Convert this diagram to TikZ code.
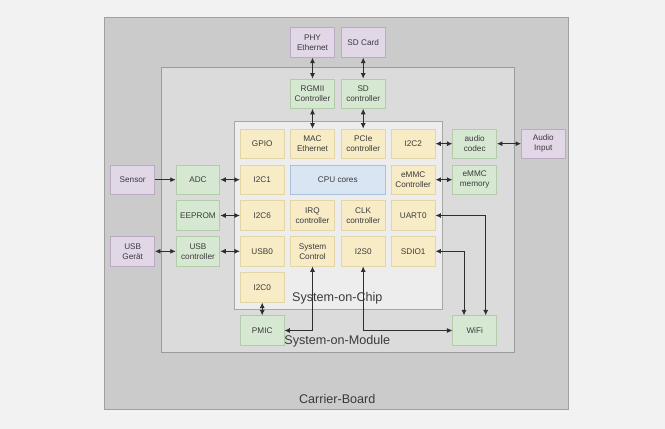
\documentclass[tikz,border=0pt]{standalone}
\usepackage{fontspec}
\setmainfont{Liberation Sans}
\usetikzlibrary{arrows.meta}
\definecolor{pagebg}{HTML}{F2F2F2}
\definecolor{boardfill}{HTML}{CBCBCB}
\definecolor{boardline}{HTML}{A0A0A0}
\definecolor{somfill}{HTML}{DBDBDB}
\definecolor{somline}{HTML}{9C9C9C}
\definecolor{socfill}{HTML}{EDEDED}
\definecolor{socline}{HTML}{A6A6A6}
\definecolor{yelfill}{HTML}{F7ECC6}
\definecolor{yelline}{HTML}{E2D6A6}
\definecolor{grnfill}{HTML}{D6E8D2}
\definecolor{grnline}{HTML}{B2CCAA}
\definecolor{purfill}{HTML}{E2D7E7}
\definecolor{purline}{HTML}{BBAAC4}
\definecolor{blufill}{HTML}{D9E5F3}
\definecolor{bluline}{HTML}{A9C0DA}
\definecolor{txt}{HTML}{3A3A3A}
\definecolor{wire}{HTML}{2E2E2E}
\tikzset{
  x=1pt, y=-1pt,
  blk/.style={draw, line width=0.8pt, minimum width=43.7pt, minimum height=29.3pt,
    inner sep=0pt, align=center, text=txt, font=\fontsize{8.2}{10.2}\selectfont},
  socblk/.style={blk, fill=yelfill, draw=yelline},
  modblk/.style={blk, fill=grnfill, draw=grnline},
  extblk/.style={blk, fill=purfill, draw=purline},
  coreblk/.style={blk, fill=blufill, draw=bluline, minimum width=94.3pt},
  tip/.tip={Latex[length=5.5pt,width=5pt]},
  onearr/.style={draw=wire, line width=0.9pt, -tip},
  twoarr/.style={draw=wire, line width=0.9pt, tip-tip},
  frame/.style={font=\fontsize{12.6}{14}\selectfont, text=txt}
}
\begin{document}
\begin{tikzpicture}
  % page and nested containers
  \fill[pagebg] (0,0) rectangle (665,429);
  \useasboundingbox (0,0) rectangle (665,429);
  \draw[fill=boardfill, draw=boardline, line width=0.9pt] (104.3,17.7) rectangle (568.5,409);
  \draw[fill=somfill, draw=somline, line width=0.9pt] (161.7,67.5) rectangle (514.3,352.7);
  \draw[fill=socfill, draw=socline, line width=0.9pt] (234.3,121.7) rectangle (442.3,309.3);

  \node[frame] (soclabel) at (337.3,298) {System-on-Chip};
  \node[frame] (somlabel) at (337.3,341) {System-on-Module};
  \node[frame] (boardlabel) at (337.3,399) {Carrier-Board};

  % external devices on the carrier board
  \node[extblk] (phy) at (312.5,42.5) {PHY\\Ethernet};
  \node[extblk] (sdcard) at (363.2,42.5) {SD Card};
  \node[extblk] (sensor) at (132.7,179.7) {Sensor};
  \node[extblk] (usbdev) at (132.7,251.3) {USB\\Gerät};
  \node[extblk] (audioin) at (543.3,143.7) {Audio\\Input};

  % module components
  \node[modblk] (rgmii) at (312.5,93.7) {RGMII\\Controller};
  \node[modblk] (sdctl) at (363.2,93.7) {SD\\controller};
  \node[modblk] (adc) at (198,179.7) {ADC};
  \node[modblk] (eeprom) at (198,215.5) {EEPROM};
  \node[modblk] (usbctl) at (198,251.3) {USB\\controller};
  \node[modblk] (codec) at (474.7,143.7) {audio\\codec};
  \node[modblk] (emmcmem) at (474.7,179.7) {eMMC\\memory};
  \node[modblk] (pmic) at (262.2,330.5) {PMIC};
  \node[modblk] (wifi) at (474.7,330.5) {WiFi};

  % system-on-chip blocks
  \node[socblk] (gpio) at (262.2,143.7) {GPIO};
  \node[socblk] (mac) at (312.5,143.7) {MAC\\Ethernet};
  \node[socblk] (pcie) at (363.2,143.7) {PCIe\\controller};
  \node[socblk] (i2ctwo) at (413.2,143.7) {I2C2};
  \node[socblk] (i2cone) at (262.2,179.7) {I2C1};
  \node[coreblk] (cpu) at (337.8,179.7) {CPU cores};
  \node[socblk] (emmcctl) at (413.2,179.7) {eMMC\\Controller};
  \node[socblk] (i2csix) at (262.2,215.5) {I2C6};
  \node[socblk] (irq) at (312.5,215.5) {IRQ\\controller};
  \node[socblk] (clk) at (363.2,215.5) {CLK\\controller};
  \node[socblk] (uart) at (413.2,215.5) {UART0};
  \node[socblk] (usbzero) at (262.2,251.3) {USB0};
  \node[socblk] (sysctl) at (312.5,251.3) {System\\Control};
  \node[socblk] (i2s) at (363.2,251.3) {I2S0};
  \node[socblk] (sdio) at (413.2,251.3) {SDIO1};
  \node[socblk] (i2czero) at (262.2,287.5) {I2C0};

  % connections
  \draw[twoarr] (phy) -- (rgmii);
  \draw[twoarr] (sdcard) -- (sdctl);
  \draw[twoarr] (rgmii) -- (mac);
  \draw[twoarr] (sdctl) -- (pcie);
  \draw[onearr] (sensor) -- (adc);
  \draw[twoarr] (adc) -- (i2cone);
  \draw[twoarr] (eeprom) -- (i2csix);
  \draw[twoarr] (usbdev) -- (usbctl);
  \draw[twoarr] (usbctl) -- (usbzero);
  \draw[twoarr] (i2ctwo) -- (codec);
  \draw[twoarr] (codec) -- (audioin);
  \draw[twoarr] (emmcctl) -- (emmcmem);
  \draw[twoarr] (i2czero) -- (pmic);
  \draw[twoarr] (uart.east) -| ([xshift=11pt]wifi.north);
  \draw[twoarr] (sdio.east) -| ([xshift=-10.7pt]wifi.north);
  \draw[twoarr] (sysctl.south) |- (pmic.east);
  \draw[twoarr] (i2s.south) |- (wifi.west);
\end{tikzpicture}
\end{document}
